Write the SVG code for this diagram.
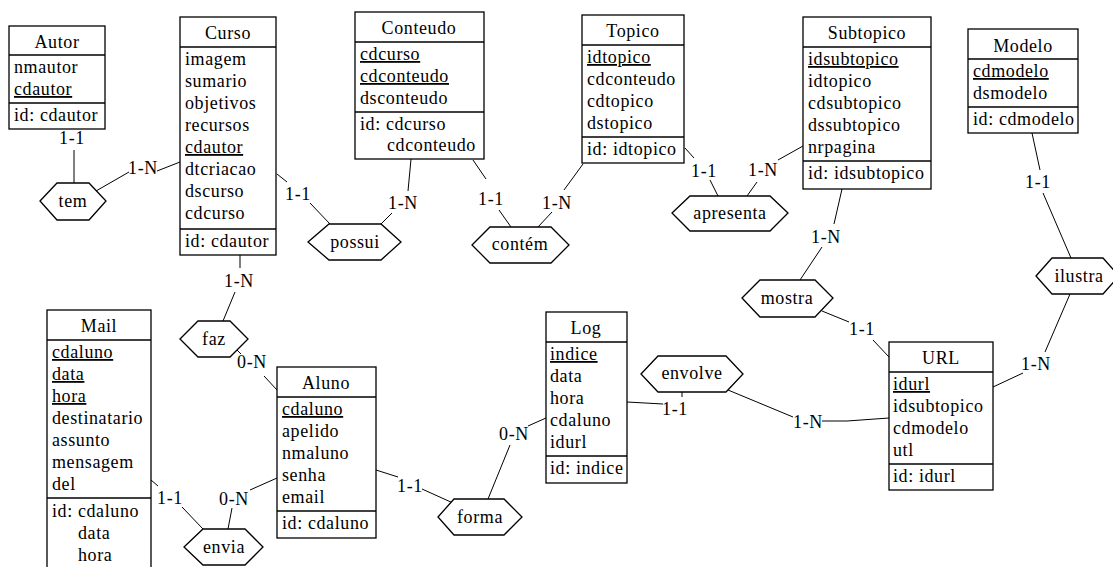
<svg xmlns="http://www.w3.org/2000/svg" width="1113" height="567" viewBox="0 0 1113 567">
<style>
.bg{fill:#fff}
.box{fill:#fff;stroke:#000;stroke-width:1.3}
.sep{stroke:#000;stroke-width:1.3;fill:none}
.rel{fill:#fff;stroke:#000;stroke-width:1.3}
.ln{fill:none;stroke:#000;stroke-width:1}
.t{font-family:"Liberation Serif","Times New Roman",serif;font-size:18px;letter-spacing:0.6px;fill:#000}
.c{text-anchor:middle}
.u{text-decoration:underline}
</style>
<rect class="bg" x="0" y="0" width="1113" height="567"/>

<g id="connectors">
  <!-- Autor - tem -->
  <polyline class="ln" points="74,150 74,183"/>
  <text class="t c" x="72" y="144">1-1</text>
  <!-- tem - Curso -->
  <polyline class="ln" points="96,191 129,172"/>
  <polyline class="ln" points="157,171 180,162"/>
  <text class="t c" x="143" y="174">1-N</text>
  <!-- Curso - possui -->
  <polyline class="ln" points="277,174 287,182"/>
  <polyline class="ln" points="310,203 330,224"/>
  <text class="t c" x="298" y="200">1-1</text>
  <!-- Conteudo - possui -->
  <polyline class="ln" points="411,159 408,191"/>
  <polyline class="ln" points="392,213 381,224"/>
  <text class="t c" x="403" y="209">1-N</text>
  <!-- Conteudo - contem -->
  <polyline class="ln" points="473,160 486,179"/>
  <polyline class="ln" points="499,210 511,227"/>
  <text class="t c" x="491" y="205">1-1</text>
  <!-- Topico - contem -->
  <polyline class="ln" points="583,164 564,190"/>
  <polyline class="ln" points="552,212 538,227"/>
  <text class="t c" x="557" y="209">1-N</text>
  <!-- Topico - apresenta -->
  <polyline class="ln" points="685,148 694,158"/>
  <polyline class="ln" points="710,180 718,196"/>
  <text class="t c" x="704" y="177">1-1</text>
  <!-- Subtopico - apresenta -->
  <polyline class="ln" points="803,146 778,160"/>
  <polyline class="ln" points="757,182 747,196"/>
  <text class="t c" x="763" y="176">1-N</text>
  <!-- Subtopico - mostra -->
  <polyline class="ln" points="842,189 834,224"/>
  <polyline class="ln" points="822,247 800,280"/>
  <text class="t c" x="826" y="243">1-N</text>
  <!-- mostra - URL -->
  <polyline class="ln" points="822,311 849,322"/>
  <polyline class="ln" points="873,340 889,357"/>
  <text class="t c" x="862" y="335">1-1</text>
  <!-- Modelo - ilustra -->
  <polyline class="ln" points="1032,133 1040,170"/>
  <polyline class="ln" points="1043,193 1071,258"/>
  <text class="t c" x="1038" y="188">1-1</text>
  <!-- ilustra - URL -->
  <polyline class="ln" points="1070,294 1045,352"/>
  <polyline class="ln" points="1023,373 993,387"/>
  <text class="t c" x="1036" y="370">1-N</text>
  <!-- Log - envolve -->
  <polyline class="ln" points="627,402 663,404"/>
  <polyline class="ln" points="682,392 682,397"/>
  <text class="t c" x="675" y="415">1-1</text>
  <!-- envolve - URL -->
  <polyline class="ln" points="728,390 793,417"/>
  <polyline class="ln" points="822,421 847,421 889,418"/>
  <text class="t c" x="808" y="428">1-N</text>
  <!-- Aluno - forma -->
  <polyline class="ln" points="376,470 398,477"/>
  <polyline class="ln" points="422,489 453,503"/>
  <text class="t c" x="410" y="492">1-1</text>
  <!-- Log - forma -->
  <polyline class="ln" points="546,418 528,426"/>
  <polyline class="ln" points="510,445 488,499"/>
  <text class="t c" x="514" y="440">0-N</text>
  <!-- Curso - faz -->
  <polyline class="ln" points="240,255 240,268"/>
  <polyline class="ln" points="235,292 223,321"/>
  <text class="t c" x="239" y="287">1-N</text>
  <!-- faz - Aluno -->
  <polyline class="ln" points="236,349 241,354"/>
  <polyline class="ln" points="264,376 277,390"/>
  <text class="t c" x="252" y="368">0-N</text>
  <!-- Aluno - envia -->
  <polyline class="ln" points="277,478 250,490"/>
  <polyline class="ln" points="232,508 228,529"/>
  <text class="t c" x="234" y="505">0-N</text>
  <!-- Mail - envia -->
  <polyline class="ln" points="151,480 158,486"/>
  <polyline class="ln" points="182,507 203,529"/>
  <text class="t c" x="170" y="504">1-1</text>
</g>

<g id="Autor">
  <rect class="box" x="9" y="26" width="96" height="103"/>
  <line class="sep" x1="9" y1="55" x2="105" y2="55"/>
  <line class="sep" x1="9" y1="103" x2="105" y2="103"/>
  <text class="t c" x="57" y="48">Autor</text>
  <text class="t" x="14" y="73">nmautor</text>
  <text class="t u" x="14" y="95">cdautor</text>
  <text class="t" x="14" y="121">id: cdautor</text>
</g>

<g id="Curso">
  <rect class="box" x="180" y="17" width="96" height="238"/>
  <line class="sep" x1="180" y1="47" x2="276" y2="47"/>
  <line class="sep" x1="180" y1="229" x2="276" y2="229"/>
  <text class="t c" x="228" y="39">Curso</text>
  <text class="t" x="185" y="65">imagem</text>
  <text class="t" x="185" y="87">sumario</text>
  <text class="t" x="185" y="109">objetivos</text>
  <text class="t" x="185" y="131">recursos</text>
  <text class="t u" x="185" y="153">cdautor</text>
  <text class="t" x="185" y="175">dtcriacao</text>
  <text class="t" x="185" y="197">dscurso</text>
  <text class="t" x="185" y="219">cdcurso</text>
  <text class="t" x="185" y="247">id: cdautor</text>
</g>

<g id="Conteudo">
  <rect class="box" x="355" y="12" width="129" height="147"/>
  <line class="sep" x1="355" y1="42" x2="484" y2="42"/>
  <line class="sep" x1="355" y1="112" x2="484" y2="112"/>
  <text class="t c" x="419" y="34">Conteudo</text>
  <text class="t u" x="360" y="60">cdcurso</text>
  <text class="t u" x="360" y="82">cdconteudo</text>
  <text class="t" x="360" y="104">dsconteudo</text>
  <text class="t" x="360" y="130">id: cdcurso</text>
  <text class="t" x="387" y="151">cdconteudo</text>
</g>

<g id="Topico">
  <rect class="box" x="582" y="15" width="102" height="148"/>
  <line class="sep" x1="582" y1="45" x2="684" y2="45"/>
  <line class="sep" x1="582" y1="137" x2="684" y2="137"/>
  <text class="t c" x="633" y="37">Topico</text>
  <text class="t u" x="587" y="63">idtopico</text>
  <text class="t" x="587" y="85">cdconteudo</text>
  <text class="t" x="587" y="107">cdtopico</text>
  <text class="t" x="587" y="129">dstopico</text>
  <text class="t" x="587" y="155">id: idtopico</text>
</g>

<g id="Subtopico">
  <rect class="box" x="803" y="17" width="128" height="172"/>
  <line class="sep" x1="803" y1="47" x2="931" y2="47"/>
  <line class="sep" x1="803" y1="161" x2="931" y2="161"/>
  <text class="t c" x="867" y="39">Subtopico</text>
  <text class="t u" x="808" y="65">idsubtopico</text>
  <text class="t" x="808" y="87">idtopico</text>
  <text class="t" x="808" y="109">cdsubtopico</text>
  <text class="t" x="808" y="131">dssubtopico</text>
  <text class="t" x="808" y="153">nrpagina</text>
  <text class="t" x="808" y="179">id: idsubtopico</text>
</g>

<g id="Modelo">
  <rect class="box" x="968" y="29" width="110" height="104"/>
  <line class="sep" x1="968" y1="59" x2="1078" y2="59"/>
  <line class="sep" x1="968" y1="107" x2="1078" y2="107"/>
  <text class="t c" x="1023" y="52">Modelo</text>
  <text class="t u" x="973" y="77">cdmodelo</text>
  <text class="t" x="973" y="99">dsmodelo</text>
  <text class="t" x="973" y="125">id: cdmodelo</text>
</g>

<g id="Mail">
  <rect class="box" x="47" y="310" width="104" height="290"/>
  <line class="sep" x1="47" y1="340" x2="151" y2="340"/>
  <line class="sep" x1="47" y1="498" x2="151" y2="498"/>
  <text class="t c" x="99" y="332">Mail</text>
  <text class="t u" x="52" y="358">cdaluno</text>
  <text class="t u" x="52" y="380">data</text>
  <text class="t u" x="52" y="402">hora</text>
  <text class="t" x="52" y="424">destinatario</text>
  <text class="t" x="52" y="446">assunto</text>
  <text class="t" x="52" y="468">mensagem</text>
  <text class="t" x="52" y="490">del</text>
  <text class="t" x="52" y="517">id: cdaluno</text>
  <text class="t" x="78" y="539">data</text>
  <text class="t" x="78" y="561">hora</text>
</g>

<g id="Aluno">
  <rect class="box" x="277" y="367" width="99" height="171"/>
  <line class="sep" x1="277" y1="397" x2="376" y2="397"/>
  <line class="sep" x1="277" y1="511" x2="376" y2="511"/>
  <text class="t c" x="326" y="389">Aluno</text>
  <text class="t u" x="282" y="415">cdaluno</text>
  <text class="t" x="282" y="437">apelido</text>
  <text class="t" x="282" y="459">nmaluno</text>
  <text class="t" x="282" y="481">senha</text>
  <text class="t" x="282" y="503">email</text>
  <text class="t" x="282" y="529">id: cdaluno</text>
</g>

<g id="Log">
  <rect class="box" x="546" y="312" width="81" height="171"/>
  <line class="sep" x1="546" y1="342" x2="627" y2="342"/>
  <line class="sep" x1="546" y1="456" x2="627" y2="456"/>
  <text class="t c" x="586" y="334">Log</text>
  <text class="t u" x="550" y="360">indice</text>
  <text class="t" x="550" y="382">data</text>
  <text class="t" x="550" y="404">hora</text>
  <text class="t" x="550" y="426">cdaluno</text>
  <text class="t" x="550" y="448">idurl</text>
  <text class="t" x="550" y="474">id: indice</text>
</g>

<g id="URL">
  <rect class="box" x="889" y="342" width="104" height="148"/>
  <line class="sep" x1="889" y1="372" x2="993" y2="372"/>
  <line class="sep" x1="889" y1="464" x2="993" y2="464"/>
  <text class="t c" x="941" y="364">URL</text>
  <text class="t u" x="893" y="390">idurl</text>
  <text class="t" x="893" y="412">idsubtopico</text>
  <text class="t" x="893" y="434">cdmodelo</text>
  <text class="t" x="893" y="456">utl</text>
  <text class="t" x="893" y="482">id: idurl</text>
</g>

<g id="tem">
  <polygon class="rel" points="40,201 57,183 89,183 106,201 89,220 57,220"/>
  <text class="t c" x="73" y="207">tem</text>
</g>
<g id="possui">
  <polygon class="rel" points="308,242 329,224 381,224 401,242 381,260 329,260"/>
  <text class="t c" x="355" y="248">possui</text>
</g>
<g id="contem">
  <polygon class="rel" points="472,245 490,227 551,227 569,245 551,263 490,263"/>
  <text class="t c" x="520" y="250">contém</text>
</g>
<g id="apresenta">
  <polygon class="rel" points="672,213 690,196 770,196 788,213 770,231 690,231"/>
  <text class="t c" x="730" y="219">apresenta</text>
</g>
<g id="mostra">
  <polygon class="rel" points="742,298 760,280 815,280 833,298 815,317 760,317"/>
  <text class="t c" x="787" y="304">mostra</text>
</g>
<g id="ilustra">
  <polygon class="rel" points="1036,276 1052,258 1103,258 1119,276 1103,294 1052,294"/>
  <text class="t c" x="1079" y="282">ilustra</text>
</g>
<g id="envolve">
  <polygon class="rel" points="641,374 658,356 726,356 743,374 726,392 658,392"/>
  <text class="t c" x="692" y="379">envolve</text>
</g>
<g id="forma">
  <polygon class="rel" points="438,517 454,499 504,499 522,517 504,535 454,535"/>
  <text class="t c" x="480" y="523">forma</text>
</g>
<g id="faz">
  <polygon class="rel" points="180,339 198,321 230,321 248,339 230,357 198,357"/>
  <text class="t c" x="214" y="345">faz</text>
</g>
<g id="envia">
  <polygon class="rel" points="184,547 203,529 245,529 263,547 245,565 203,565"/>
  <text class="t c" x="224" y="553">envia</text>
</g>
</svg>
